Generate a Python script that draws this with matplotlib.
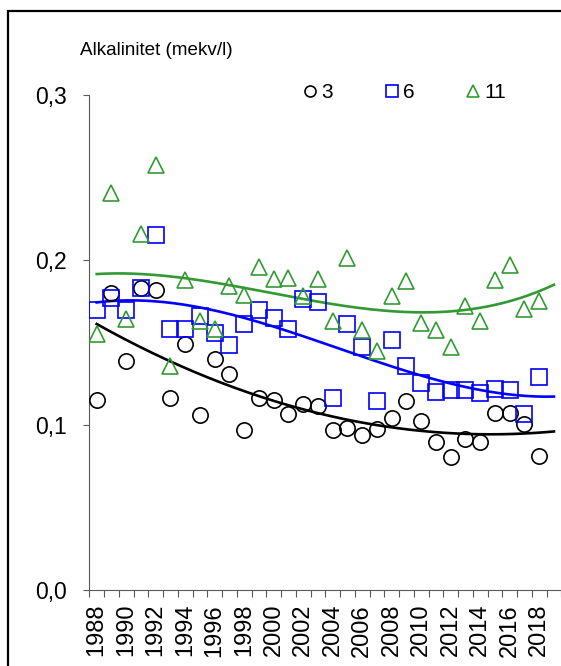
import numpy as np
import matplotlib
matplotlib.use("Agg")
import matplotlib.pyplot as plt
from matplotlib.patches import Rectangle
from matplotlib.ticker import FixedLocator, FuncFormatter, NullFormatter
from matplotlib.lines import Line2D

plt.rcParams['font.family'] = ['Liberation Sans', 'DejaVu Sans']

years = list(range(1988, 2019))

s3 = [0.115, 0.180, 0.1385, 0.183, 0.182, 0.1165, 0.149, 0.106, 0.140, 0.1307,
      0.097, 0.1165, 0.115, 0.1065, 0.113, 0.1115, 0.097, 0.0984, 0.094, 0.0978,
      0.104, 0.1145, 0.1024, 0.0897, 0.0806, 0.0913, 0.0897, 0.1071, 0.1075, 0.1004,
      0.0812]
s6 = [0.170, 0.177, 0.170, 0.183, 0.215, 0.158, 0.158, 0.166, 0.156, 0.1486,
      0.161, 0.170, 0.165, 0.158, 0.1765, 0.1748, 0.1165, 0.161, 0.147, 0.1145,
      0.1516, 0.1355, 0.1256, 0.1201, 0.1212, 0.1212, 0.1192, 0.1216, 0.1212, 0.1065,
      0.129]
s11 = [0.155, 0.2407, 0.164, 0.216, 0.2575, 0.136, 0.1877, 0.163, 0.158, 0.1844,
       0.179, 0.1958, 0.1887, 0.1893, 0.178, 0.1887, 0.163, 0.201, 0.1577, 0.1448,
       0.178, 0.187, 0.162, 0.1575, 0.147, 0.172, 0.163, 0.1877, 0.197, 0.1703,
       0.175]

series_names = ['3', '6', '11']
y_ticks = [0.0, 0.1, 0.2, 0.3]
trend_degrees = [2, 3, 3]

W, H = 561, 666
fig = plt.figure(figsize=(W / 100, H / 100), dpi=100)

# figure frame (only top and left visible in crop)
fig.patches.append(Rectangle((8 / W, -0.5), 2.0, 0.5 + 1 - 11 / H,
                             transform=fig.transFigure, fill=False,
                             edgecolor='black', linewidth=1.6, clip_on=False))

ax_l, ax_r = 89.3 / W, 561.3 / W
ax_b, ax_t = 1 - 590 / H, 1 - 95 / H
ax = fig.add_axes([ax_l, ax_b, ax_r - ax_l, ax_t - ax_b])

x = np.arange(len(years))
colors = ['black', '#0000ff', '#339933']
markers = ['o', 's', '^']
msizes = [11, 11.5, 12]
handles = []
for vals, c, m, ms, name, deg in zip([s3, s6, s11], colors, markers, msizes,
                                     series_names, trend_degrees):
    ax.plot(x, vals, linestyle='none', marker=m, markersize=ms,
            markerfacecolor='none', markeredgecolor=c, markeredgewidth=1.2,
            zorder=3)
    coef = np.polyfit(x, vals, deg)
    xt = np.linspace(0, len(years), 200)
    ax.plot(xt, np.polyval(coef, xt), color=c, linewidth=1.9, zorder=2)
    handles.append(Line2D([], [], linestyle='none', marker=m, markersize=ms * 0.72,
                          markerfacecolor='none', markeredgecolor=c,
                          markeredgewidth=1.2, label=name))

ax.set_xlim(-0.5, len(years) + 0.5)
ax.set_ylim(0, 0.3)

for side in ['top', 'right']:
    ax.spines[side].set_visible(False)
for side in ['left', 'bottom']:
    ax.spines[side].set_color('#595959')
    ax.spines[side].set_linewidth(0.8)

ax.set_yticks(y_ticks)
ax.yaxis.set_major_formatter(FuncFormatter(lambda v, p: f"{v:.1f}".replace('.', ',')))
ax.tick_params(axis='y', direction='out', length=4, width=0.8, color='#595959',
               labelsize=16.5, pad=12)

ax.xaxis.set_major_locator(FixedLocator(np.arange(-0.5, len(years) + 1, 1.0)))
ax.xaxis.set_major_formatter(NullFormatter())
lab_idx = [i for i, yv in enumerate(years) if yv % 2 == 0]
ax.xaxis.set_minor_locator(FixedLocator(lab_idx))
ax.set_xticklabels([str(years[i]) for i in lab_idx], minor=True, rotation=90)
ax.tick_params(axis='x', which='major', direction='out', length=5, width=0.8,
               color='#595959')
ax.tick_params(axis='x', which='minor', length=0, labelsize=17, pad=10)

fig.text(80 / W, 1 - 55 / H, 'Alkalinitet (mekv/l)', fontsize=13.6,
         va='baseline', ha='left')

ax.legend(handles=handles, ncol=3, frameon=False, fontsize=15,
          handlelength=0.6, handletextpad=0.25, columnspacing=2.5,
          loc='center', bbox_to_anchor=(405 / W, 1 - 93 / H),
          bbox_transform=fig.transFigure, borderaxespad=0, borderpad=0)

fig.savefig('out.png', dpi=100)
